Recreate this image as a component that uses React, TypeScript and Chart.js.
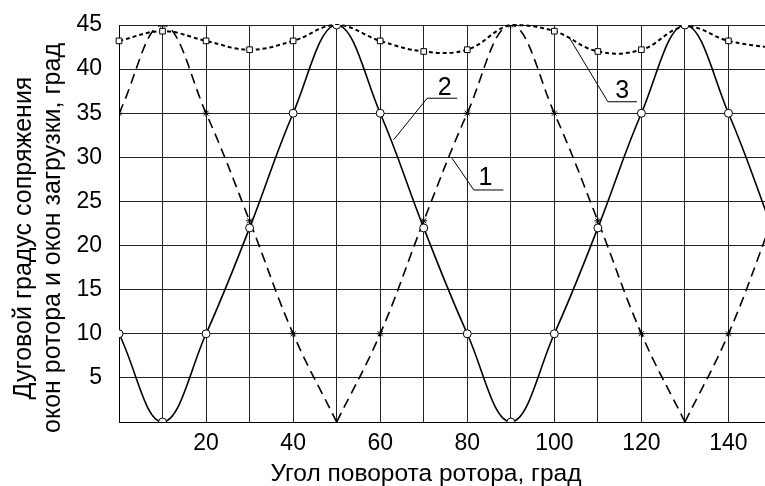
import React, { useEffect, useRef } from 'react';
import { Chart, registerables } from 'chart.js';
Chart.register(...registerables);

// ---- data ----
const angles = [0, 10, 20, 30, 40, 50, 60, 70, 80, 90, 100, 110, 120, 130, 140, 150];
const curve1 = [35, 45, 35, 22.8, 10, 0, 10, 22.8, 35, 45, 35, 22.8, 10, 0, 10, 22.8];
const curve2 = [10, 0, 10, 22, 35, 45, 35, 22, 10, 0, 10, 22, 35, 45, 35, 22];
const curve3 = [43.2, 44.3, 43.2, 42.2, 43.2, 45, 43.2, 42, 42.2, 45, 44.3, 42, 42.2, 44.8, 43.2, 42.4];
const curve3Marked = [1, 1, 1, 1, 1, 0, 1, 1, 1, 0, 1, 1, 1, 0, 1, 1];
const xTickLabels = [20, 40, 60, 80, 100, 120, 140];
const yTickLabels = [5, 10, 15, 20, 25, 30, 35, 40, 45];
const xTitle = 'Угол поворота ротора, град';
const yTitleLines = ['Дуговой градус сопряжения', 'окон ротора и окон загрузки, град'];
const calloutTexts = ['1', '2', '3'];
// callout geometry in data units: anchor on curve, elbow, underline end, text position
const calloutGeom = [
  { anchor: [76.5, 29.9], elbow: [81.5, 26.3], end: 88.3, text: [84.2, 26.9] },
  { anchor: [63.1, 32.0], elbow: [70.8, 36.7], end: 77.7, text: [74.8, 37.1] },
  { anchor: [103.4, 43.6], elbow: [112.3, 36.3], end: 119.0, text: [115.6, 36.7] },
];

const FONT = '"Liberation Sans", Arial, sans-serif';

function splitAtMinima(xs: number[], ys: number[]) {
  const segs: { x: number; y: number }[][] = [];
  let cur: { x: number; y: number }[] = [];
  ys.forEach((y, i) => {
    cur.push({ x: xs[i], y });
    if (y === 0 && cur.length > 1) {
      segs.push(cur);
      cur = [{ x: xs[i], y }];
    }
  });
  if (cur.length > 1) segs.push(cur);
  return segs;
}

const overlayPlugin = {
  id: 'overlay',
  afterDraw(chart: any) {
    const ctx = chart.ctx as CanvasRenderingContext2D;
    const xs = chart.scales.x;
    const ys = chart.scales.y;
    ctx.save();
    // callouts
    calloutTexts.forEach((t, i) => {
      const g = calloutGeom[i];
      const ax = xs.getPixelForValue(g.anchor[0]);
      const ay = ys.getPixelForValue(g.anchor[1]);
      const ex = xs.getPixelForValue(g.elbow[0]);
      const ey = ys.getPixelForValue(g.elbow[1]);
      const endx = xs.getPixelForValue(g.end);
      ctx.strokeStyle = '#000';
      ctx.lineWidth = 1;
      ctx.setLineDash([]);
      ctx.beginPath();
      ctx.moveTo(ax, ay);
      ctx.lineTo(ex, ey);
      ctx.lineTo(endx, ey);
      ctx.stroke();
      ctx.fillStyle = '#000';
      ctx.font = `25px ${FONT}`;
      ctx.textAlign = 'center';
      ctx.textBaseline = 'alphabetic';
      ctx.fillText(t, xs.getPixelForValue(g.text[0]), ys.getPixelForValue(g.text[1]));
    });
    // axis titles
    ctx.fillStyle = '#000';
    ctx.textAlign = 'center';
    ctx.textBaseline = 'alphabetic';
    ctx.font = `24.5px ${FONT}`;
    ctx.fillText(xTitle, 426, 481);
    ctx.font = `25px ${FONT}`;
    const centers = [[31, 238], [60, 238]];
    yTitleLines.forEach((line, i) => {
      ctx.save();
      ctx.translate(centers[i][0], centers[i][1]);
      ctx.rotate(-Math.PI / 2);
      ctx.fillText(line, 0, 0);
      ctx.restore();
    });
    ctx.restore();
  },
};

export default function App() {
  const ref = useRef<HTMLCanvasElement>(null);
  useEffect(() => {
    if (!ref.current) return;
    const segs = splitAtMinima(angles, curve1);
    const datasets: any[] = [
      {
        label: '2',
        data: angles.map((x, i) => ({ x, y: curve2[i] })),
        borderColor: '#000',
        borderWidth: 1.6,
        tension: 0.4,
        pointStyle: 'circle',
        pointRadius: 4,
        pointBackgroundColor: '#fff',
        pointBorderColor: '#000',
        pointBorderWidth: 1,
      },
      ...segs.map((seg) => ({
        label: '1',
        data: seg,
        borderColor: '#000',
        borderWidth: 1.6,
        borderDash: [10, 6],
        tension: 0.4,
        pointStyle: 'star',
        pointRadius: (c: any) => (c.raw && c.raw.y === 0 ? 0 : 3.5),
        pointBackgroundColor: '#fff',
        pointBorderColor: '#000',
        pointBorderWidth: 1,
      })),
      {
        label: '3',
        data: angles.map((x, i) => ({ x, y: curve3[i] })),
        borderColor: '#000',
        borderWidth: 2,
        borderDash: [4, 3],
        tension: 0.4,
        clip: false,
        pointStyle: 'rect',
        pointRadius: (c: any) => (curve3Marked[c.dataIndex] ? 4 : 0),
        pointBackgroundColor: '#fff',
        pointBorderColor: '#000',
        pointBorderWidth: 1,
      },
    ];
    const chart = new Chart(ref.current, {
      type: 'line',
      data: { datasets },
      plugins: [overlayPlugin],
      options: {
        animation: false,
        responsive: false,
        maintainAspectRatio: false,
        layout: { padding: { top: 25, left: 0, right: 0, bottom: 0 } },
        plugins: { legend: { display: false }, tooltip: { enabled: false }, title: { display: false } },
        scales: {
          x: {
            type: 'linear',
            min: 0,
            max: 150,
            afterFit: (s: any) => { s.height = 64; },
            ticks: {
              stepSize: 10,
              autoSkip: false,
              maxRotation: 0,
              padding: 8,
              color: '#000',
              font: { family: FONT, size: 23 },
              callback: (v: any) => (xTickLabels.includes(Number(v)) ? String(v) : ''),
            },
            grid: { color: '#222', lineWidth: 1, drawTicks: false },
            border: { display: true, color: '#000', width: 1 },
          },
          y: {
            type: 'linear',
            min: 0,
            max: 45,
            afterFit: (s: any) => { s.width = 119; s.paddingTop = 0; s.paddingBottom = 0; },
            ticks: {
              stepSize: 5,
              autoSkip: false,
              padding: 17,
              color: '#000',
              font: { family: FONT, size: 23 },
              callback: (v: any) => (yTickLabels.includes(Number(v)) ? String(v) : ''),
            },
            grid: { color: '#222', lineWidth: 1, drawTicks: false },
            border: { display: true, color: '#000', width: 1 },
          },
        },
      },
    });
    return () => chart.destroy();
  }, []);
  return (
    <div style={{ position: 'absolute', left: 0, top: 0, width: 765, height: 486, overflow: 'hidden', background: '#fff' }}>
      <canvas ref={ref} width={780} height={486} style={{ display: 'block' }} />
    </div>
  );
}
